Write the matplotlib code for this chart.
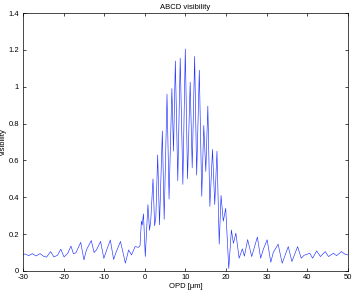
import matplotlib
matplotlib.use('Agg')
import matplotlib.pyplot as plt

# visibility curve (OPD in micrometres)
opd = [
    -30.0, -29.5, -28.6, -27.7, -26.8, -25.8, -24.9, -24.2, -23.2, -22.4,
    -21.5, -20.7, -19.9, -19.0, -18.2, -17.6, -17.0, -15.8, -15.0, -14.4,
    -13.2, -12.5, -11.9, -10.9, -10.1, -9.4, -8.5, -7.7, -7.2, -6.0,
    -4.8, -4.0, -3.3, -2.4, -1.6, -1.2, -0.85, -0.65, -0.35, 0.1,
    0.75, 1.15, 1.45, 2.0, 2.4, 2.7, 3.15, 3.6, 4.3, 4.75,
    5.45, 5.95, 6.65, 7.05, 7.5, 8.1, 8.7, 9.35, 9.95, 10.5,
    11.15, 11.65, 12.25, 12.75, 13.4, 14.0, 14.5, 15.0, 15.5, 16.0,
    16.65, 17.2, 17.75, 18.3, 18.75, 19.3, 19.9, 20.65, 21.3, 21.8,
    22.4, 23.2, 24.0, 24.5, 25.3, 26.3, 27.7, 28.5, 29.2, 30.1,
    31.0, 31.6, 32.8, 33.8, 35.3, 36.2, 37.6, 38.5, 39.2, 40.6,
    41.3, 42.3, 43.2, 44.4, 45.2, 46.4, 47.2, 48.4, 49.3, 50.0,
]
visibility = [
    0.090, 0.092, 0.083, 0.094, 0.081, 0.094, 0.079, 0.075, 0.105, 0.076,
    0.085, 0.118, 0.076, 0.095, 0.135, 0.094, 0.098, 0.155, 0.060, 0.114,
    0.165, 0.100, 0.115, 0.160, 0.068, 0.114, 0.168, 0.062, 0.095, 0.160,
    0.042, 0.114, 0.087, 0.132, 0.128, 0.136, 0.270, 0.250, 0.310, 0.078,
    0.360, 0.220, 0.275, 0.500, 0.245, 0.290, 0.630, 0.250, 0.760, 0.280,
    0.960, 0.390, 0.990, 0.650, 1.140, 0.490, 1.155, 0.470, 1.205, 0.500,
    1.025, 0.560, 1.165, 0.520, 1.090, 0.405, 0.790, 0.540, 0.895, 0.350,
    0.660, 0.360, 0.650, 0.145, 0.410, 0.270, 0.340, 0.013, 0.222, 0.150,
    0.205, 0.069, 0.120, 0.080, 0.170, 0.078, 0.184, 0.069, 0.120, 0.169,
    0.047, 0.100, 0.145, 0.042, 0.132, 0.051, 0.132, 0.069, 0.085, 0.096,
    0.069, 0.109, 0.078, 0.105, 0.078, 0.096, 0.083, 0.105, 0.090, 0.087,
]

xticks = [-30, -20, -10, 0, 10, 20, 30, 40, 50]
yticks = [0, 0.2, 0.4, 0.6, 0.8, 1.0, 1.2, 1.4]
ytick_labels = ['0', '0.2', '0.4', '0.6', '0.8', '1', '1.2', '1.4']

plt.rcParams['font.family'] = ['Liberation Sans', 'DejaVu Sans']
plt.rcParams['axes.unicode_minus'] = False

fig = plt.figure(figsize=(3.54, 2.91), dpi=100)
fig.patch.set_facecolor('white')
ax = fig.add_axes([0.065, 0.069, 0.918, 0.886])

ax.plot(opd, visibility, color='#2233ff', linewidth=0.45)

ax.set_xlim(-30, 50)
ax.set_ylim(0, 1.4)
ax.set_xticks(xticks)
ax.set_xticklabels([str(t) for t in xticks])
ax.set_yticks(yticks)
ax.set_yticklabels(ytick_labels)
ax.tick_params(direction='in', length=2.5, width=0.5, labelsize=5.5,
               top=True, right=True)
ax.tick_params(axis='x', pad=2.5)
ax.tick_params(axis='y', pad=3)
for spine in ax.spines.values():
    spine.set_linewidth(0.5)

ax.set_title('ABCD visibility', fontsize=5.5, pad=3)
ax.set_xlabel('OPD [μm]', fontsize=5.5, labelpad=1)
ax.set_ylabel('visibility', fontsize=5.5)
ax.yaxis.set_label_coords(-0.05, 0.5)

fig.savefig('out.png', dpi=100, facecolor='white')
